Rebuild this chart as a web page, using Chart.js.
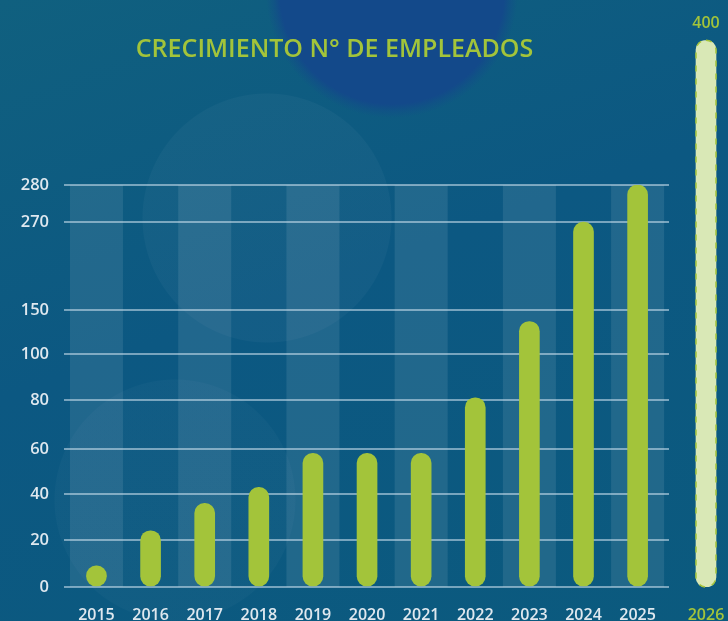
<!DOCTYPE html>
<html>
<head>
<meta charset="utf-8">
<script src="https://cdn.jsdelivr.net/npm/chart.js@4.4.1/dist/chart.umd.min.js"></script>
<style>
  html, body { margin: 0; padding: 0; }
  body {
    width: 728px; height: 621px; overflow: hidden; position: relative;
    background:
      radial-gradient(circle at 392px -8px, #13498a 0 112px, rgba(19,73,138,0.5) 118px, rgba(19,73,138,0) 126px),
      radial-gradient(circle at 267px 218px, rgba(255,255,255,0.03) 0 124px, rgba(255,255,255,0) 125px),
      radial-gradient(circle at 175px 500px, rgba(255,255,255,0.022) 0 120px, rgba(255,255,255,0) 121px),
      linear-gradient(160deg, #10607f 0%, #0c5882 45%, #0b5a7e 100%);
  }
  #main { position: absolute; left: 0; top: 0; }
  #goal { position: absolute; left: 682px; top: 0; }
</style>
</head>
<body>
<canvas id="main" width="728" height="621"></canvas>
<canvas id="goal" width="48" height="621"></canvas>
<script>
// data
var years = [2015, 2016, 2017, 2018, 2019, 2020, 2021, 2022, 2023, 2024, 2025];
var employees = [9, 24, 36, 43, 58, 58, 58, 81, 137, 270, 280];
var yTicks = [0, 20, 40, 60, 80, 100, 150, 270, 280];
var goalLabels = ['2026'];
var goalValue = [400];

// uneven spacing between the y ticks (relative step heights)
var yGapWeights = [1.04, 1.01, 1.0, 1.08, 1.01, 0.98, 1.94, 0.82];

var LIME = '#a3c43a';
var TICK = '#dfe8ef';

// y axis whose ticks are placed at uneven steps
class StepScale extends Chart.LinearScale {
  buildTicks() {
    this.min = yTicks[0];
    this.max = yTicks[yTicks.length - 1];
    return yTicks.map(function (v) { return { value: v }; });
  }
  _total() {
    return yGapWeights.reduce(function (a, b) { return a + b; }, 0);
  }
  getPixelForValue(value) {
    if (value === null || value === undefined || isNaN(value)) return NaN;
    var pos = 0;
    for (var i = 0; i < yTicks.length - 1; i++) {
      var a = yTicks[i], b = yTicks[i + 1];
      if (value <= b || i === yTicks.length - 2) {
        pos += yGapWeights[i] * (value - a) / (b - a);
        break;
      }
      pos += yGapWeights[i];
    }
    return this.getPixelForDecimal(pos / this._total());
  }
  getValueForPixel(pixel) {
    var pos = this.getDecimalForPixel(pixel) * this._total();
    for (var i = 0; i < yTicks.length - 1; i++) {
      if (pos <= yGapWeights[i] || i === yTicks.length - 2) {
        return yTicks[i] + (yTicks[i + 1] - yTicks[i]) * pos / yGapWeights[i];
      }
      pos -= yGapWeights[i];
    }
    return yTicks[yTicks.length - 1];
  }
}
StepScale.id = 'step';
StepScale.defaults = {};
Chart.register(StepScale);

var stripes = {
  id: 'stripes',
  beforeDraw: function (chart) {
    var ctx = chart.ctx, area = chart.chartArea, x = chart.scales.x;
    var w = (x.getPixelForValue(years[1]) - x.getPixelForValue(years[0])) * 0.98;
    ctx.save();
    ctx.fillStyle = 'rgba(255,255,255,0.09)';
    years.forEach(function (yr, i) {
      if (i % 2) return;
      var cx = x.getPixelForValue(yr);
      ctx.fillRect(cx - w / 2, area.top, w, area.bottom - area.top);
    });
    ctx.restore();
  }
};

var mainChart = new Chart(document.getElementById('main'), {
  type: 'bar',
  data: {
    labels: years,
    datasets: [{
      data: employees,
      backgroundColor: LIME,
      borderWidth: 0,
      borderRadius: 10,
      borderSkipped: false,
      barThickness: 20
    }]
  },
  options: {
    animation: false,
    responsive: false,
    layout: { padding: { left: 0, right: 59, top: 0, bottom: 0 } },
    plugins: {
      legend: { display: false },
      tooltip: { enabled: false },
      title: {
        display: true,
        text: 'CRECIMIENTO N° DE EMPLEADOS',
        color: LIME,
        font: { family: 'Open Sans', size: 25, weight: '600' },
        padding: { top: 35, bottom: 120 }
      }
    },
    scales: {
      x: {
        type: 'linear',
        bounds: 'data',
        offset: false,
        min: 2014.4,
        max: 2025.58,
        grid: { display: false },
        border: { display: false },
        afterFit: function (s) { s.height = 34; },
        afterBuildTicks: function (s) {
          s.ticks = years.map(function (v) { return { value: v }; });
        },
        ticks: {
          autoSkip: false,
          maxRotation: 0,
          padding: 11,
          color: TICK,
          font: { family: 'Open Sans', size: 16, weight: '600' },
          callback: function (v) { return String(v); }
        }
      },
      y: {
        type: 'step',
        min: 0,
        max: 280,
        border: { display: false },
        afterFit: function (s) { s.width = 64; },
        grid: { color: 'rgba(210,228,240,0.55)', lineWidth: 2, drawTicks: false },
        ticks: {
          autoSkip: false,
          padding: 15,
          color: TICK,
          font: { family: 'Open Sans', size: 16.5, weight: '600' },
          callback: function (v) { return String(v); }
        }
      }
    }
  },
  plugins: [stripes]
});

// projected 2026 bar on the right
var dashedEdge = {
  id: 'dashedEdge',
  afterDatasetsDraw: function (chart) {
    var ctx = chart.ctx;
    var bar = chart.getDatasetMeta(0).data[0];
    var p = bar.getProps(['x', 'y', 'base', 'width'], true);
    ctx.save();
    ctx.beginPath();
    ctx.roundRect(p.x - p.width / 2, p.y, p.width, p.base - p.y, p.width / 2);
    ctx.setLineDash([6, 7]);
    ctx.lineWidth = 1.5;
    ctx.strokeStyle = LIME;
    ctx.stroke();
    ctx.restore();
  }
};

var goalChart = new Chart(document.getElementById('goal'), {
  type: 'bar',
  data: {
    labels: goalLabels,
    datasets: [{
      data: goalValue,
      backgroundColor: '#d9e8b6',
      borderWidth: 0,
      borderRadius: 10,
      borderSkipped: false,
      barThickness: 20
    }]
  },
  options: {
    animation: false,
    responsive: false,
    layout: { padding: 0 },
    plugins: {
      legend: { display: false },
      tooltip: { enabled: false },
      title: {
        display: true,
        text: String(goalValue[0]),
        color: LIME,
        font: { family: 'Open Sans', size: 16, weight: '600' },
        padding: { top: 14, bottom: 7 }
      }
    },
    scales: {
      x: {
        grid: { display: false },
        border: { display: false },
        afterFit: function (s) { s.height = 34; },
        ticks: {
          padding: 11,
          color: LIME,
          font: { family: 'Open Sans', size: 16, weight: '600' }
        }
      },
      y: { display: false, min: 0, max: 400 }
    }
  },
  plugins: [dashedEdge]
});
</script>
</body>
</html>
